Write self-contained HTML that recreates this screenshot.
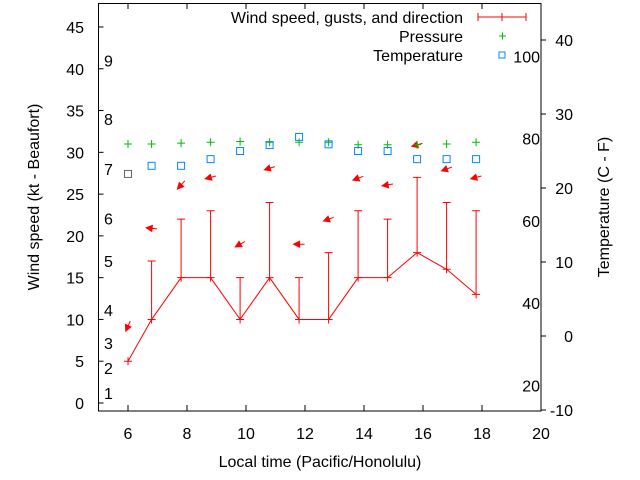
<!DOCTYPE html>
<html><head><meta charset="utf-8"><style>
body{margin:0;background:#fff}
svg{display:block;font-family:"Liberation Sans",sans-serif;font-size:16px}
</style></head><body>
<svg id="chart" width="640" height="480" viewBox="0 0 640 480" xmlns="http://www.w3.org/2000/svg">
<rect x="98.5" y="3.5" width="442.5" height="407.5" fill="none" stroke="#000" stroke-width="1"/>
<g id="axes"></g>
<g id="marks"></g>
<text x="320" y="467" text-anchor="middle">Local time (Pacific/Honolulu)</text>
<text transform="translate(39,197) rotate(-90)" text-anchor="middle">Wind speed (kt - Beaufort)</text>
<text transform="translate(609,207) rotate(-90)" text-anchor="middle">Temperature (C - F)</text>
<g>
<text x="463" y="23" text-anchor="end">Wind speed, gusts, and direction</text>
<line x1="478" y1="17" x2="526" y2="17" stroke="#f00"/><line x1="478" y1="13" x2="478" y2="21" stroke="#f00"/><line x1="526" y1="13" x2="526" y2="21" stroke="#f00"/><line x1="502" y1="13" x2="502" y2="21" stroke="#f00"/>
<text x="463" y="42" text-anchor="end">Pressure</text>
<path d="M499 36h7M502.5 32.5v7" stroke="#0b0"/>
<text x="463" y="61" text-anchor="end">Temperature</text>
<rect x="499" y="52" width="6" height="6" fill="none" stroke="#08f"/>
</g>
</svg>
<script>
const times=[6,6.8,7.8,8.8,9.8,10.8,11.8,12.8,13.8,14.8,15.8,16.8,17.8];
const wind=[5,10,15,15,10,15,10,10,15,15,18,16,13];
const gusts=[5,17,22,23,15,24,15,18,23,22,27,24,23];
const windDir=[24,96,42,75,61,73,90,70,70,81,75,70,75];
const arrowY=[9.2,20.9,26.1,27.0,19.0,28.1,19.0,22.0,26.9,26.1,30.9,28.0,27.0];
const pressure=[31.0,31.0,31.1,31.2,31.3,31.2,31.2,31.2,30.9,30.9,30.9,31.0,31.2];
const tempC=[21.9,23.0,23.0,23.9,25.0,25.8,26.9,25.9,25.0,25.0,23.9,23.9,23.9];
const xTicks=[6,8,10,12,14,16,18,20];
const yTicks=[0,5,10,15,20,25,30,35,40,45];
const y2Ticks=[-10,0,10,20,30,40];
const fLabels=[20,40,60,80,100];
const bLabels=[1,2,3,4,5,6,7,8,9];
const bPos=[1.2,4.2,7.2,11.1,17,22.1,28,34,41];

const sx=v=>98.5+(v-5)*29.5;
const sy=v=>403-v*8.356;
const sy2=c=>336-c*7.4;
const NS="http://www.w3.org/2000/svg";
const axes=document.getElementById('axes'),marks=document.getElementById('marks');
function mk(p,tag,attrs){const e=document.createElementNS(NS,tag);for(const k in attrs)e.setAttribute(k,attrs[k]);p.appendChild(e);return e;}

xTicks.forEach(t=>{
 const x=sx(t);
 const l=mk(axes,'path',{d:`M${x} 411v-6M${x} 3v6`,stroke:'#000'});
 
 
 const tx=mk(axes,'text',{x:x,y:439,'text-anchor':'middle'});tx.textContent=t;
 
 
});
yTicks.forEach(t=>{
 const y=sy(t);
 const l=mk(axes,'path',{d:`M98.5 ${y}h5`,stroke:'#000'});
 
 
 const tx=mk(axes,'text',{x:84,y:y+6,'text-anchor':'end'});tx.textContent=t;
 
 
});
y2Ticks.forEach(t=>{
 const y=sy2(t);
 const l=mk(axes,'path',{d:`M541 ${y}h5`,stroke:'#000'});
 
 
 const tx=mk(axes,'text',{x:573,y:y+6,'text-anchor':'end'});tx.textContent=t;
 
 
});
fLabels.forEach(f=>{
 const tx=mk(axes,'text',{x:540,y:sy2((f-32)*5/9)+6,'text-anchor':'end'});tx.textContent=f;
 
 
});
bLabels.forEach((b,i)=>{
 const tx=mk(axes,'text',{x:104,y:sy(bPos[i])+6});tx.textContent=b;
 
 
});

const pl=mk(marks,'polyline',{points:times.map((t,i)=>sx(t)+','+sy(wind[i])).join(' '),fill:'none',stroke:'#f00'});


times.forEach((t,i)=>{
 const x=sx(t),y=sy(wind[i]),g=sy(gusts[i]);
 const e=mk(marks,'path',{d:`M${x} ${y}V${g}M${x-4} ${g}h8M${x-4} ${y}h8M${x} ${y-4}v8`,stroke:'#f00',fill:'none'});
 
 
 const h=(windDir[i]+180)*Math.PI/180,L=11;
 const dx=Math.sin(h)*L,dy=-Math.cos(h)*L;
 const ay=sy(arrowY[i]);
 const hx=x+dx/2,hy=ay+dy/2,tx0=x-dx/2,ty0=ay-dy/2;
 const ux=dx/L,uy=dy/L;
 const a=mk(marks,'path',{d:`M${tx0} ${ty0}L${hx} ${hy}M${hx} ${hy}L${hx-ux*6-uy*3} ${hy-uy*6+ux*3}L${hx-ux*6+uy*3} ${hy-uy*6-ux*3}Z`,stroke:'#f00',fill:'#f00'});
 
 
 const p=mk(marks,'path',{d:`M${x-4} ${sy(pressure[i])}h8M${x} ${sy(pressure[i])-4}v8`,stroke:'#0b0'});
 
 
 const s=mk(marks,'rect',{x:x-3.5,y:sy2(tempC[i])-3.5,width:7,height:7,fill:'none',stroke:i==0?'#666':'#08f'});
 
 
});
</script>
</body></html>
